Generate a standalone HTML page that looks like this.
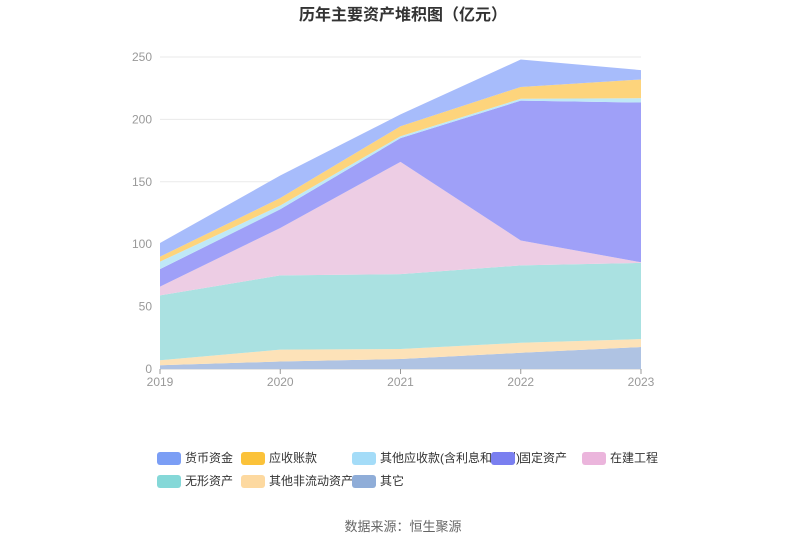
<!DOCTYPE html>
<html><head><meta charset="utf-8"><style>
body{margin:0;background:#fff;font-family:"Liberation Sans","Noto Sans CJK SC",sans-serif;}
svg text{font-family:"Liberation Sans","Noto Sans CJK SC",sans-serif;}
</style></head><body>
<svg id="c" width="807" height="546">
<text x="403" y="20" text-anchor="middle" font-size="16" font-weight="bold" fill="#333">历年主要资产堆积图（亿元）</text>
<g id="grid"></g><g id="areas"></g><g id="axes"></g><g id="legend"></g>
<text x="403" y="531" text-anchor="middle" font-size="13" fill="#666">数据来源：恒生聚源</text>
</svg>
<script>
const years=["2019","2020","2021","2022","2023"];
const seriesNames=["其它","其他非流动资产","无形资产","在建工程","固定资产","其他应收款(含利息和股利)","应收账款","货币资金"];
const qita=[3,6,8,13,17.6];
const feiliudong=[4,9.5,8,8,6.4];
const wuxing=[52,59.5,60,62,61];
const zaijian=[7,38,90,20,0.5];
const guding=[14,15,19,112,128];
const qitayingshou=[6,3,1.5,1.5,3.5];
const yingshou=[4,6,8,9.5,15];
const huobi=[11,18,9.5,22,7.5];
const yTicks=[0,50,100,150,200,250];
const seriesData=[qita,feiliudong,wuxing,zaijian,guding,qitayingshou,yingshou,huobi];
const areaColors=["#afc3e3","#fde2b8","#aae1e1","#edcde4","#9fa0f8","#bfe8f7","#fdd47c","#a7bcfb"];
const legendColors=["#8fadd8","#fdd9a0","#85d8d8","#ebb5dc","#7a7ff0","#a4dcf8","#fbc23a","#7b9ef5"];
const ns="http://www.w3.org/2000/svg";
const X0=160,X1=641,Y0=369,Y1=57,YMAX=250;
const xs=i=>X0+(X1-X0)*i/(years.length-1);
const ys=v=>Y0-(Y0-Y1)*v/YMAX;
function mk(t,a,p){const e=document.createElementNS(ns,t);for(const k in a)e.setAttribute(k,a[k]);p.appendChild(e);return e;}
const grid=document.getElementById('grid'),axes=document.getElementById('axes'),areas=document.getElementById('areas'),legend=document.getElementById('legend');
yTicks.forEach(t=>{
 const l=mk('line',{x1:X0,x2:X1,y1:ys(t),y2:ys(t),stroke:t===0?'#ccc':'#eaeaea'},grid);
 
 
 const tx=mk('text',{x:X0-8,y:ys(t)+4,'text-anchor':'end','font-size':12,fill:'#999'},axes);
 tx.textContent=t;
 
 
});
years.forEach((y,i)=>{
 const tk=mk('line',{x1:xs(i),x2:xs(i),y1:Y0,y2:Y0+5,stroke:'#999'},axes);
 
 
 const tx=mk('text',{x:xs(i),y:Y0+17,'text-anchor':'middle','font-size':12,fill:'#999'},axes);
 tx.textContent=y;
 
 
});
let base=years.map(()=>0);
seriesData.forEach((s,k)=>{
 const top=base.map((b,i)=>b+s[i]);
 let d='';
 top.forEach((v,i)=>{d+=(i?'L':'M')+xs(i)+','+ys(v);});
 for(let i=years.length-1;i>=0;i--)d+='L'+xs(i)+','+ys(base[i]);
 const p=mk('path',{d:d+'Z',fill:areaColors[k]},areas);
 
 
 base=top;
});
const order=[7,6,5,4,3,2,1,0];
const pos=[[157,458],[241,458],[352,458],[491,458],[582,458],[157,481],[241,481],[352,481]];
order.forEach((k,j)=>{
 const [x,y]=pos[j];
 const g=mk('g',{},legend);
 
 
 mk('rect',{x:x,y:y-6,width:24,height:13,rx:3,fill:legendColors[k]},g);
 const t=mk('text',{x:x+28,y:y+4,'font-size':12,fill:'#333'},g);
 t.textContent=seriesNames[k];
});
</script>
</body></html>
